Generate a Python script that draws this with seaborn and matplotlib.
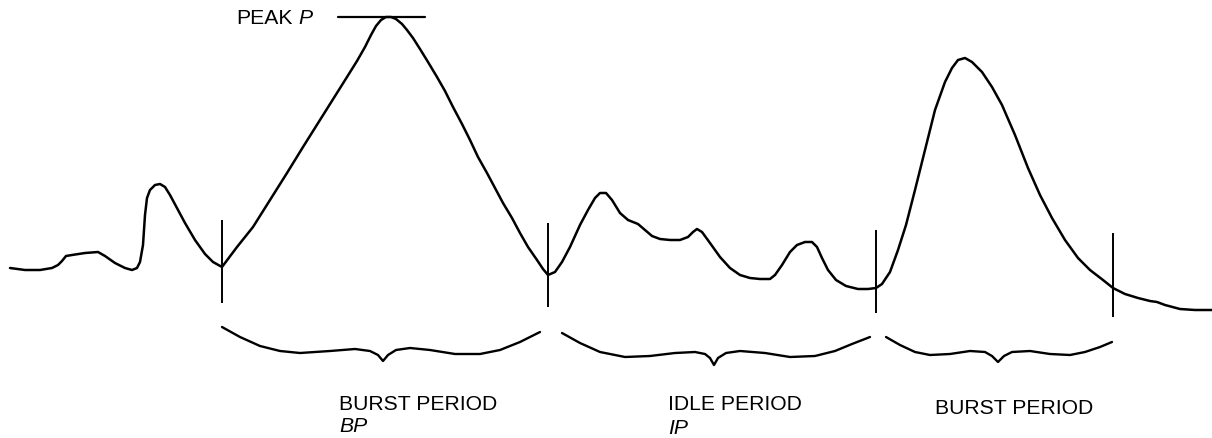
import numpy as np
import pandas as pd
import matplotlib
matplotlib.use("Agg")
import matplotlib.pyplot as plt
import seaborn as sns

# ---- data (in drawing units; y grows downward) ----
curve_x = [10, 25, 40, 52, 58, 62, 66, 72, 85, 98, 105, 115, 125, 132, 137, 140, 143, 145, 147, 150, 155, 160, 165, 170, 178, 185, 195, 205, 213, 222,
           228, 237, 253, 270, 287, 303, 320, 335, 347, 357, 365, 371, 376, 381, 386, 391, 396, 402, 407, 413, 420, 428, 437, 445, 453, 462, 470, 478, 487, 495, 503, 512, 520, 528, 537, 543, 548,
           555, 562, 570, 580, 588, 595, 600, 606, 612, 620, 628, 638, 645, 652, 660, 670, 680, 688, 693, 697, 702, 710, 720, 730, 740, 750, 760, 770, 775, 782, 790, 797, 805, 812, 817, 822, 828, 836, 846, 858, 868, 876,
           882, 890, 898, 906, 915, 925, 935, 945, 952, 958, 965, 972, 982, 992, 1002, 1015, 1028, 1040, 1052, 1065, 1078, 1090, 1103, 1113, 1125, 1138, 1150, 1157, 1165, 1180, 1195, 1212]
curve_y = [268, 270, 270, 268, 265, 261, 256, 255, 253, 252, 256, 263, 268, 270, 268, 262, 245, 215, 198, 190, 185, 184, 187, 195, 210, 223, 240, 254, 262, 267,
           259, 247, 227, 200, 173, 147, 120, 96, 77, 61, 47, 35, 26, 20, 17, 17, 19, 24, 30, 38, 49, 62, 77, 91, 107, 124, 140, 157, 173, 188, 203, 218, 233, 247, 260, 269, 275,
           272, 262, 247, 225, 210, 198, 193, 193, 200, 213, 220, 224, 230, 236, 239, 240, 240, 237, 232, 229, 232, 243, 257, 268, 275, 278, 279, 279, 275, 265, 252, 245, 242, 242, 247, 258, 270, 280, 286, 289, 289, 288,
           284, 272, 250, 225, 190, 150, 110, 82, 68, 60, 58, 62, 72, 87, 105, 135, 168, 195, 218, 240, 258, 270, 280, 288, 294, 298, 301, 302, 305, 309, 310, 310]

marker_x = [222, 548, 876, 1113]
marker_top = [220, 223, 230, 233]
marker_bottom = [303, 307, 313, 317]

peak_line_x = [338, 425]
peak_line_y = [17, 17]

brace1_x = [222, 240, 260, 280, 300, 330, 355, 370, 378, 383, 388, 396, 410, 430, 455, 480, 500, 520, 540]
brace1_y = [327, 337, 346, 351, 353, 351, 349, 351, 355, 361, 355, 350, 348, 350, 354, 354, 350, 342, 332]
brace2_x = [562, 580, 600, 625, 650, 675, 695, 705, 710, 714, 718, 726, 740, 765, 790, 815, 835, 852, 870]
brace2_y = [333, 343, 352, 357, 356, 353, 352, 354, 358, 365, 358, 353, 351, 353, 357, 356, 351, 344, 337]
brace3_x = [886, 900, 915, 930, 950, 970, 985, 992, 998, 1004, 1012, 1030, 1050, 1070, 1085, 1100, 1112]
brace3_y = [337, 345, 352, 355, 354, 351, 352, 356, 362, 356, 352, 351, 354, 355, 352, 347, 342]

labels = ["BURST PERIOD", "IDLE PERIOD", "BURST PERIOD"]
label_x = [339, 668, 935]
label_y = [404, 405, 409]
sublabels = ["BP", "IP", ""]
peak_label = "PEAK"
peak_symbol = "P"

# ---- drawing ----
sns.set_theme(style="white")
plt.rcParams['font.family'] = ['Liberation Sans', 'DejaVu Sans']

fig = plt.figure(figsize=(12.12, 4.38), dpi=100)
ax = fig.add_axes([0, 0, 1, 1])
ax.set_xlim(0, 1212)
ax.set_ylim(438, 0)
ax.axis("off")

ink = "#000000"
sns.lineplot(x=curve_x, y=curve_y, sort=False, estimator=None, color=ink, linewidth=1.8, ax=ax)
for bx, by in [(brace1_x, brace1_y), (brace2_x, brace2_y), (brace3_x, brace3_y)]:
    sns.lineplot(x=bx, y=by, sort=False, estimator=None, color=ink, linewidth=1.7, ax=ax)
sns.lineplot(x=peak_line_x, y=peak_line_y, sort=False, estimator=None, color=ink, linewidth=1.6, ax=ax)
ax.vlines(marker_x, marker_top, marker_bottom, color=ink, linewidth=1.4)

fs = 15.2
for t, x, y in zip(labels, label_x, label_y):
    ax.text(x, y, t, fontsize=fs, ha="left", va="center", color=ink)
for t, x, y in zip(sublabels, label_x, label_y):
    if t:
        ax.text(x, y + 23, t, fontsize=fs, ha="left", va="center", color=ink, style="italic")
ax.text(236, 18, peak_label, fontsize=fs, ha="left", va="center", color=ink)
ax.text(298, 18, peak_symbol, fontsize=fs, ha="left", va="center", color=ink, style="italic")

fig.savefig("out.png", dpi=100, facecolor="white")
